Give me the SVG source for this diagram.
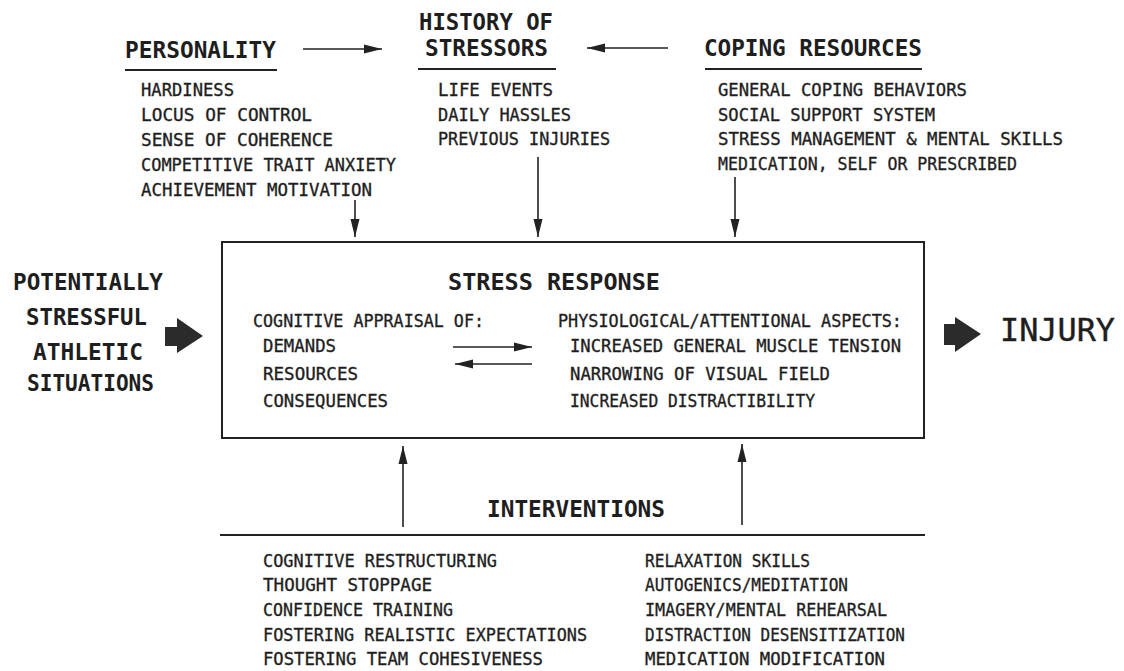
<svg xmlns="http://www.w3.org/2000/svg" width="1124" height="671" viewBox="0 0 1124 671">
<style>
text{font-family:"DejaVu Sans Mono","Liberation Mono",monospace;fill:#1e1e1e}
.h{font-size:23px;font-weight:bold}
.b{font-size:18px;stroke:#1e1e1e;stroke-width:0.35}
.big{font-size:32px;stroke:#1e1e1e;stroke-width:0.4}
.ln{stroke:#222;stroke-width:2;fill:none}
.ar{stroke:#222;stroke-width:1.6;fill:none;marker-end:url(#ah)}
.blk{fill:#2b2b2b}
</style>
<defs>
<marker id="ah" markerUnits="userSpaceOnUse" markerWidth="18" markerHeight="10" refX="18" refY="5" orient="auto">
<path d="M0,0.5 L18,5 L0,9.5 Z" fill="#222"/>
</marker>
</defs>
<rect width="1124" height="671" fill="#fff"/>

<g id="personality">
<text class="h" x="125" y="58" textLength="151" lengthAdjust="spacingAndGlyphs">PERSONALITY</text>
<line class="ln" x1="125" y1="70" x2="277" y2="70"/>
<text class="b" x="141" y="96" textLength="93" lengthAdjust="spacingAndGlyphs">HARDINESS</text>
<text class="b" x="141" y="121" textLength="171" lengthAdjust="spacingAndGlyphs">LOCUS OF CONTROL</text>
<text class="b" x="141" y="146" textLength="192" lengthAdjust="spacingAndGlyphs">SENSE OF COHERENCE</text>
<text class="b" x="141" y="171" textLength="255" lengthAdjust="spacingAndGlyphs">COMPETITIVE TRAIT ANXIETY</text>
<text class="b" x="141" y="196" textLength="231" lengthAdjust="spacingAndGlyphs">ACHIEVEMENT MOTIVATION</text>
</g>

<g id="history">
<text class="h" x="419" y="30" textLength="134" lengthAdjust="spacingAndGlyphs">HISTORY OF</text>
<text class="h" x="425" y="56" textLength="123" lengthAdjust="spacingAndGlyphs">STRESSORS</text>
<line class="ln" x1="418" y1="69" x2="556" y2="69"/>
<text class="b" x="438" y="96" textLength="115" lengthAdjust="spacingAndGlyphs">LIFE EVENTS</text>
<text class="b" x="438" y="121" textLength="133" lengthAdjust="spacingAndGlyphs">DAILY HASSLES</text>
<text class="b" x="438" y="145" textLength="172" lengthAdjust="spacingAndGlyphs">PREVIOUS INJURIES</text>
</g>

<g id="coping">
<text class="h" x="704" y="56" textLength="218" lengthAdjust="spacingAndGlyphs">COPING RESOURCES</text>
<line class="ln" x1="705" y1="69" x2="922" y2="69"/>
<text class="b" x="718" y="96" textLength="249" lengthAdjust="spacingAndGlyphs">GENERAL COPING BEHAVIORS</text>
<text class="b" x="718" y="121" textLength="217" lengthAdjust="spacingAndGlyphs">SOCIAL SUPPORT SYSTEM</text>
<text class="b" x="718" y="145" textLength="345" lengthAdjust="spacingAndGlyphs">STRESS MANAGEMENT &amp; MENTAL SKILLS</text>
<text class="b" x="718" y="170" textLength="299" lengthAdjust="spacingAndGlyphs">MEDICATION, SELF OR PRESCRIBED</text>
</g>

<g id="situations">
<text class="h" x="13" y="290" textLength="150" lengthAdjust="spacingAndGlyphs">POTENTIALLY</text>
<text class="h" x="26" y="325" textLength="121" lengthAdjust="spacingAndGlyphs">STRESSFUL</text>
<text class="h" x="33" y="360" textLength="110" lengthAdjust="spacingAndGlyphs">ATHLETIC</text>
<text class="h" x="27" y="391" textLength="127" lengthAdjust="spacingAndGlyphs">SITUATIONS</text>
</g>

<g id="stress-response">
<rect class="ln" x="222" y="242" width="702" height="196"/>
<text class="h" x="448" y="290" textLength="212" lengthAdjust="spacingAndGlyphs">STRESS RESPONSE</text>
<text class="b" x="253" y="327" textLength="231" lengthAdjust="spacingAndGlyphs">COGNITIVE APPRAISAL OF:</text>
<text class="b" x="263" y="352" textLength="73" lengthAdjust="spacingAndGlyphs">DEMANDS</text>
<text class="b" x="263" y="380" textLength="95" lengthAdjust="spacingAndGlyphs">RESOURCES</text>
<text class="b" x="263" y="407" textLength="125" lengthAdjust="spacingAndGlyphs">CONSEQUENCES</text>
<text class="b" x="558" y="327" textLength="344" lengthAdjust="spacingAndGlyphs">PHYSIOLOGICAL/ATTENTIONAL ASPECTS:</text>
<text class="b" x="570" y="352" textLength="331" lengthAdjust="spacingAndGlyphs">INCREASED GENERAL MUSCLE TENSION</text>
<text class="b" x="570" y="380" textLength="260" lengthAdjust="spacingAndGlyphs">NARROWING OF VISUAL FIELD</text>
<text class="b" x="570" y="407" textLength="245" lengthAdjust="spacingAndGlyphs">INCREASED DISTRACTIBILITY</text>
</g>

<g id="injury">
<text class="big" x="1000" y="341" textLength="115" lengthAdjust="spacingAndGlyphs">INJURY</text>
</g>

<g id="interventions">
<text class="h" x="487" y="517" textLength="178" lengthAdjust="spacingAndGlyphs">INTERVENTIONS</text>
<line class="ln" x1="220" y1="535" x2="925" y2="535"/>
<text class="b" x="263" y="567" textLength="234" lengthAdjust="spacingAndGlyphs">COGNITIVE RESTRUCTURING</text>
<text class="b" x="263" y="591" textLength="169" lengthAdjust="spacingAndGlyphs">THOUGHT STOPPAGE</text>
<text class="b" x="263" y="616" textLength="190" lengthAdjust="spacingAndGlyphs">CONFIDENCE TRAINING</text>
<text class="b" x="263" y="641" textLength="324" lengthAdjust="spacingAndGlyphs">FOSTERING REALISTIC EXPECTATIONS</text>
<text class="b" x="263" y="665" textLength="280" lengthAdjust="spacingAndGlyphs">FOSTERING TEAM COHESIVENESS</text>
<text class="b" x="645" y="567" textLength="165" lengthAdjust="spacingAndGlyphs">RELAXATION SKILLS</text>
<text class="b" x="645" y="591" textLength="203" lengthAdjust="spacingAndGlyphs">AUTOGENICS/MEDITATION</text>
<text class="b" x="645" y="616" textLength="242" lengthAdjust="spacingAndGlyphs">IMAGERY/MENTAL REHEARSAL</text>
<text class="b" x="645" y="641" textLength="260" lengthAdjust="spacingAndGlyphs">DISTRACTION DESENSITIZATION</text>
<text class="b" x="645" y="665" textLength="240" lengthAdjust="spacingAndGlyphs">MEDICATION MODIFICATION</text>
</g>

<g id="connectors">
<line class="ar" x1="303" y1="49" x2="382" y2="49"/>
<line class="ar" x1="668" y1="48" x2="587" y2="48"/>
<line class="ar" x1="355" y1="200" x2="355" y2="237"/>
<line class="ar" x1="538" y1="157" x2="538" y2="237"/>
<line class="ar" x1="735" y1="177" x2="735" y2="237"/>
<line class="ar" x1="453" y1="347" x2="532" y2="347"/>
<line class="ar" x1="532" y1="364" x2="455" y2="364"/>
<line class="ar" x1="403" y1="527" x2="403" y2="446"/>
<line class="ar" x1="742" y1="525" x2="742" y2="444"/>
<path class="blk" d="M165,327 L177,327 L177,318 L203,336 L177,353 L177,346 L165,346 Z"/>
<path class="blk" d="M944,324 L955,324 L955,317 L981,334 L955,352 L955,345 L944,345 Z"/>
</g>
</svg>
